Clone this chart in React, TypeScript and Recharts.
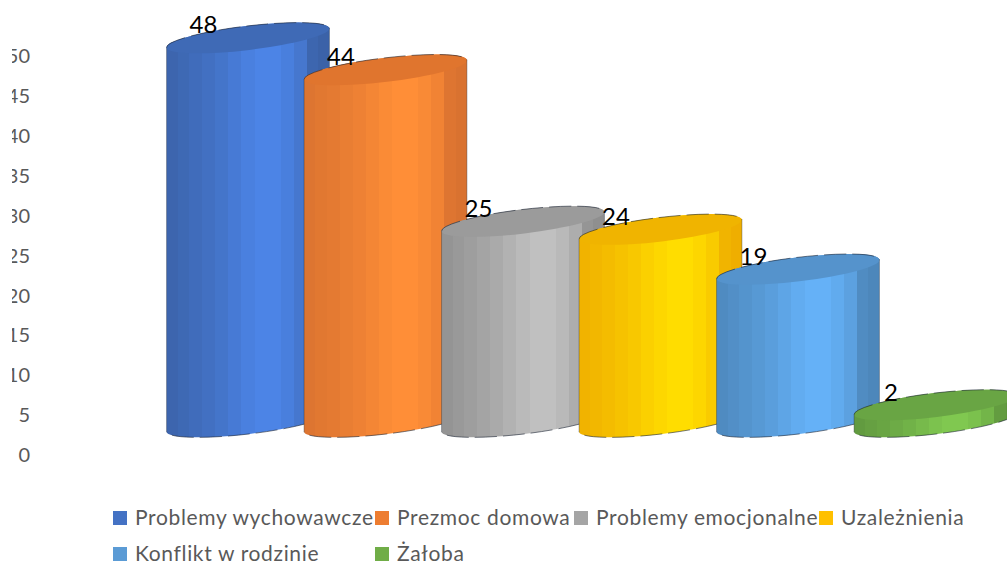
import React from "react";
import { BarChart, Bar, YAxis, XAxis, Legend, LabelList } from "recharts";

const seriesNames = ["Problemy wychowawcze", "Prezmoc domowa", "Problemy emocjonalne", "Uzależnienia", "Konflikt w rodzinie", "Żałoba"];
const seriesValues = [48, 44, 25, 24, 19, 2];
const yTicks = [0, 5, 10, 15, 20, 25, 30, 35, 40, 45, 50];
const legendColors = ["#4472c4", "#ed7d31", "#a5a5a5", "#ffc000", "#5b9bd5", "#70ad47"];
const capColors = ["#3f6ab6", "#e0752e", "#9b9b9b", "#f0b400", "#5593cc", "#69a544"];
const lightColors = ["#4c84e6", "#ff8e37", "#c0c0c0", "#ffdd00", "#65b1f7", "#80c850"];
const darkColors = ["#3b62a8", "#d97230", "#8f8f8f", "#efae00", "#4d87bb", "#5f963e"];

const row: Record<string, string | number> = { name: "" };
seriesNames.forEach((n, i) => { row[n] = seriesValues[i]; });
const rows = [row];

const hex = (c: string) => [1, 3, 5].map((p) => parseInt(c.slice(p, p + 2), 16));
const mix = (a: string, b: string, t: number) => {
  const A = hex(a), B = hex(b);
  return `rgb(${A.map((v, i) => Math.round(v + (B[i] - v) * t)).join(",")})`;
};

const BANDS = [0, 0.07, 0.14, 0.22, 0.3, 0.38, 0.46, 0.54, 0.62, 0.7, 0.78, 0.86, 0.93, 1];
const BAND_T = [0.1, 0.2, 0.3, 0.42, 0.55, 0.72, 0.88, 1, 1, 0.85, 0.62, 0.12, 0.0];
const NUDGE = 0.5;

const Cylinder = (props: any) => {
  const { x, y, height, seriesIndex } = props;
  const si = seriesIndex as number;
  const full = 164;
  const rx = full / 2;
  const ry = 12;
  const rot = -6.8;
  const dy = Math.sin((rot * Math.PI) / 180) * rx;
  const dx = Math.cos((rot * Math.PI) / 180) * rx;
  const cx = x + si * NUDGE + rx;
  const cyTop = y - 34;
  const cyBot = y + height - 33;
  const lx = cx - dx, rxp = cx + dx;
  const id = `cyl-${si}`;
  return (
    <g>
      <defs>
        <linearGradient id={id} x1="0" x2="1" y1="0" y2="0">
          {BAND_T.flatMap((t, k) => {
            const c = mix(darkColors[si], lightColors[si], t);
            return [
              <stop key={`a${k}`} offset={BANDS[k]} stopColor={c} />,
              <stop key={`b${k}`} offset={BANDS[k + 1]} stopColor={c} />,
            ];
          })}
        </linearGradient>
      </defs>
      <path d={`M${lx} ${cyTop - dy} L${lx} ${cyBot - dy} A${rx} ${ry} ${rot} 0 0 ${rxp} ${cyBot + dy} L${rxp} ${cyTop + dy} A${rx} ${ry} ${rot} 0 0 ${lx} ${cyTop - dy} Z`} fill={`url(#${id})`} />
      <ellipse cx={cx} cy={cyTop} rx={rx} ry={ry} transform={`rotate(${rot} ${cx} ${cyTop})`} fill={capColors[si]} />
      <path d={`M${lx} ${cyTop - dy} L${lx} ${cyBot - dy} M${rxp} ${cyTop + dy} L${rxp} ${cyBot + dy}`}
        fill="none" stroke="#1c2433" strokeOpacity={0.35} strokeWidth={1} />
      <path d={`M${rxp} ${cyBot + dy} A${rx} ${ry} ${rot} 0 1 ${lx} ${cyBot - dy} M${lx} ${cyTop - dy} A${rx} ${ry} ${rot} 0 1 ${rxp} ${cyTop + dy}`}
        fill="none" stroke="#1c2433" strokeOpacity={0.6} strokeWidth={1} strokeDasharray="22 6" />
    </g>
  );
};

const ValueLabel = (props: any) => {
  const { x, y, value, seriesIndex } = props;
  return (
    <text x={x + seriesIndex * NUDGE + 37.5} y={y - 48} textAnchor="middle" dominantBaseline="central" fontFamily="Lato" fontSize={24} fill="#000">
      {value}
    </text>
  );
};

const legendLeft = [113, 375, 574, 819, 113, 375];
const legendTop = [511, 511, 511, 511, 547, 547];

const LegendContent = (props: any) => (
  <div style={{ position: "relative", width: 1007, height: 562 }}>
    {(props.payload || []).map((p: any, i: number) => (
      <div key={p.value} style={{ position: "absolute", left: legendLeft[i], top: legendTop[i], display: "flex", alignItems: "center", height: 14, whiteSpace: "nowrap" }}>
        <span style={{ display: "inline-block", width: 14, height: 14, background: p.color, marginRight: 8 }} />
        <span style={{ fontFamily: "Lato", fontSize: 21, lineHeight: "20px", color: "#595959", letterSpacing: 0.65, position: "relative", top: -1.5 }}>{p.value}</span>
      </div>
    ))}
  </div>
);

export default function App() {
  return (
    <div style={{ position: "absolute", left: 12, top: 0, width: 995, height: 562, overflow: "hidden", background: "#fff" }}>
      <div style={{ marginLeft: -12, width: 1007, height: 562 }}>
        <BarChart width={1007} height={562} data={rows} margin={{ top: 56, right: 20, bottom: 107, left: 0 }} barCategoryGap={0} barGap={0}>
          <XAxis dataKey="name" hide />
          <YAxis width={166} domain={[0, 50]} ticks={yTicks} axisLine={false} tickLine={false} tickSize={0} tickMargin={136}
            tick={{ fontFamily: "Lato", fontSize: 20, fill: "#595959" }} interval={0} />
          <Legend layout="horizontal" verticalAlign="middle" align="center" itemSorter={null} wrapperStyle={{ left: 0, top: 0, width: 1007, height: 562, pointerEvents: "none" }} content={<LegendContent />} />
          {seriesNames.map((n, i) => (
            <Bar key={n} dataKey={n} name={n} fill={legendColors[i]} isAnimationActive={false}
              shape={(p: any) => <Cylinder {...p} seriesIndex={i} />}>
              <LabelList dataKey={n} content={(p: any) => <ValueLabel {...p} seriesIndex={i} />} />
            </Bar>
          ))}
        </BarChart>
      </div>
    </div>
  );
}
